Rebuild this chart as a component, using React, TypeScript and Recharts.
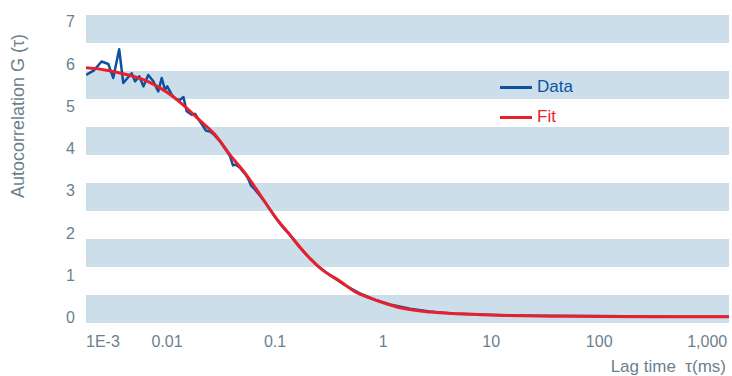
import React from "react";
import {
  LineChart,
  Line,
  XAxis,
  YAxis,
  ReferenceArea,
  Label,
} from "recharts";

// Lag-time axis range (ms) and correlation axis range
const TAU_MIN = 0.00178;
const TAU_MAX = 1590;
const G_MIN = -0.13;
const G_MAX = 7.16;

// Measured autocorrelation curve
const dataTau = [
  0.00178, 0.00211, 0.00248, 0.00286, 0.00318, 0.00361, 0.00394, 0.00471,
  0.00506, 0.00554, 0.00604, 0.00671, 0.00747, 0.0083, 0.00893, 0.00958,
  0.01006, 0.0111, 0.0121, 0.0132, 0.0142, 0.0152, 0.0169, 0.0182, 0.0202,
  0.023, 0.025, 0.0266, 0.0278, 0.031, 0.0344, 0.0383, 0.0408, 0.043, 0.047,
  0.0527, 0.056, 0.06, 0.065, 0.0726, 0.081, 0.09, 0.1, 0.115, 0.138, 0.165,
  0.198, 0.25, 0.324, 0.44, 0.61, 0.84, 1.16, 1.78, 2.7, 4.6, 7.9, 15, 35,
  100, 300, 850, 1590,
];
const dataG = [
  5.74, 5.85, 6.06, 6.0, 5.67, 6.35, 5.55, 5.78, 5.59, 5.71, 5.47, 5.74,
  5.59, 5.35, 5.67, 5.39, 5.47, 5.27, 5.17, 5.15, 5.22, 4.88, 4.8, 4.82,
  4.64, 4.42, 4.4, 4.35, 4.3, 4.17, 4.0, 3.82, 3.6, 3.62, 3.55, 3.4, 3.3,
  3.12, 3.03, 2.88, 2.72, 2.55, 2.38, 2.17, 1.95, 1.69, 1.47, 1.21, 1.0,
  0.77, 0.57, 0.42, 0.31, 0.21, 0.14, 0.09, 0.07, 0.05, 0.04, 0.035, 0.025,
  0.015, 0.02,
];

// Fitted model curve
const fitTau = [
  0.00178, 0.0025, 0.0035, 0.005, 0.007, 0.01, 0.014, 0.02, 0.028, 0.038,
  0.053, 0.073, 0.1, 0.138, 0.21, 0.29, 0.4, 0.55, 0.76, 1.09, 1.44, 2.72, 5,
  10, 20, 50, 100, 300, 1000, 1590,
];
const fitG = [
  5.91, 5.87, 5.8, 5.7, 5.56, 5.33, 5.04, 4.67, 4.32, 3.86, 3.41, 2.9, 2.39,
  1.95, 1.4, 1.08, 0.86, 0.61, 0.46, 0.32, 0.23, 0.13, 0.09, 0.06, 0.04,
  0.03, 0.025, 0.02, 0.02, 0.02,
];

const xTicks = [TAU_MIN, 0.01, 0.1, 1, 10, 100, 1000];
const xTickLabels = ["1E-3", "0.01", "0.1", "1", "10", "100", "1,000"];
const yTicks = [0, 1, 2, 3, 4, 5, 6, 7];

const seriesNames = ["Data", "Fit"];

const BLUE = "#0b52a2";
const RED = "#e8202b";
const BAND = "#cddeeb";
const TEXT = "#6c7f8e";
const FONT = "'Liberation Sans', Arial, Helvetica, sans-serif";

const dataPoints = dataTau.map((t, i) => ({ t, g: dataG[i] }));
const fitPoints = fitTau.map((t, i) => ({ t, g: fitG[i] }));

// Alternating horizontal background stripes (11 slices, every other filled)
const BAND_SLICES = 11;
const bandStep = (G_MAX - G_MIN) / BAND_SLICES;
const bands: { y1: number; y2: number }[] = [];
for (let k = 0; k < BAND_SLICES; k += 2) {
  bands.push({ y1: G_MAX - (k + 1) * bandStep, y2: G_MAX - k * bandStep });
}

const XTick = (props: any) => {
  const { x, y, payload } = props;
  const idx = xTicks.indexOf(payload.value);
  return (
    <text
      x={x}
      y={y}
      dy="0.71em"
      textAnchor={idx === 0 ? "start" : "middle"}
      fill={TEXT}
      fontSize={16}
      fontFamily={FONT}
    >
      {xTickLabels[idx]}
    </text>
  );
};

const XTitle = (props: any) => {
  const vb = props.viewBox;
  return (
    <text
      x={vb.x + vb.width - 3}
      y={vb.y + 49}
      textAnchor="end"
      fill={TEXT}
      fontSize={17}
      fontFamily={FONT}
    >
      {"Lag time\u00A0 τ(ms)"}
    </text>
  );
};

const YTitle = (props: any) => {
  const vb = props.viewBox;
  const cx = vb.x + 24;
  const cy = vb.y + 101;
  return (
    <text
      x={cx}
      y={cy}
      transform={`rotate(-90, ${cx}, ${cy})`}
      textAnchor="middle"
      fill={TEXT}
      fontSize={18}
      fontFamily={FONT}
    >
      Autocorrelation G (τ)
    </text>
  );
};

const LegendBox = () => (
  <div
    style={{
      position: "absolute",
      left: 500,
      top: 72,
      fontFamily: FONT,
      fontSize: 17,
    }}
  >
    {seriesNames.map((name, i) => (
      <div
        key={name}
        style={{ display: "flex", alignItems: "center", height: 30 }}
      >
        <span
          style={{
            display: "inline-block",
            width: 32,
            height: 3,
            background: i === 0 ? BLUE : RED,
            marginRight: 5,
          }}
        />
        <span style={{ color: i === 0 ? BLUE : RED }}>{name}</span>
      </div>
    ))}
  </div>
);

export default function App() {
  return (
    <div style={{ position: "absolute", left: 0, top: 0, width: 732, height: 376 }}>
      <LineChart
        width={732}
        height={376}
        margin={{ top: 15, right: 3, bottom: 0, left: 0 }}
      >
        <XAxis
          type="number"
          dataKey="t"
          scale="log"
          domain={[TAU_MIN, TAU_MAX]}
          ticks={xTicks}
          tick={<XTick />}
          tickSize={0}
          tickMargin={13}
          tickLine={false}
          axisLine={false}
          height={53}
          allowDataOverflow
        >
          <Label content={<XTitle />} />
        </XAxis>
        <YAxis
          type="number"
          domain={[G_MIN, G_MAX]}
          ticks={yTicks}
          tick={{ fill: TEXT, fontSize: 16, fontFamily: FONT }}
          tickSize={0}
          tickMargin={11}
          tickLine={false}
          axisLine={false}
          width={86}
          allowDataOverflow
        >
          <Label content={<YTitle />} />
        </YAxis>
        {bands.map((b, i) => (
          <ReferenceArea
            key={i}
            y1={b.y1}
            y2={b.y2}
            fill={BAND}
            fillOpacity={1}
            stroke="none"
          />
        ))}
        <Line
          data={dataPoints}
          dataKey="g"
          name="Data"
          stroke={BLUE}
          strokeWidth={2.5}
          dot={false}
          isAnimationActive={false}
          strokeLinejoin="round"
        />
        <Line
          data={fitPoints}
          dataKey="g"
          name="Fit"
          stroke={RED}
          strokeWidth={3}
          dot={false}
          type="monotone"
          isAnimationActive={false}
        />
      </LineChart>
      <LegendBox />
    </div>
  );
}
